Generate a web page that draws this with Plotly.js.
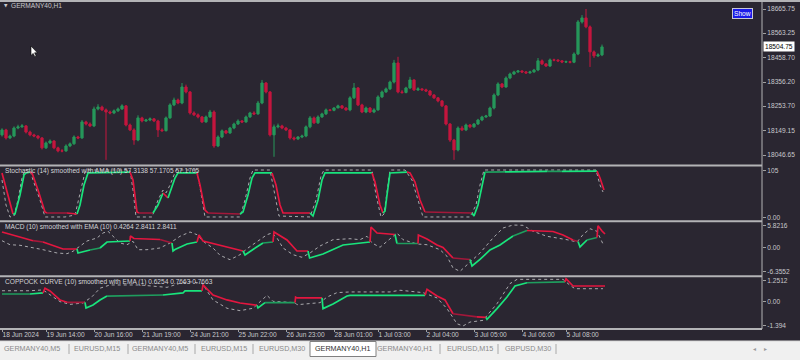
<!DOCTYPE html>
<html><head><meta charset="utf-8">
<script src="https://cdn.plot.ly/plotly-3.0.1.min.js"></script>
<style>html,body{margin:0;padding:0;background:#2a2631;}#chart{width:800px;height:360px;}</style>
</head><body><div id="chart"></div>
<script>
// ---------------- DATA ----------------
const barOpen = [18132,18153,18119,18127,18161,18166,18170,18144,18132,18127,
18119,18077,18098,18106,18077,18064,18064,18085,18094,18123,
18119,18187,18178,18170,18242,18250,18238,18229,18225,18234,
18242,18255,18174,18153,18110,18204,18191,18195,18200,18191,
18153,18150,18204,18259,18280,18267,18335,18314,18225,18217,
18208,18187,18208,18229,18085,18123,18149,18140,18161,18178,
18191,18187,18208,18225,18221,18267,18352,18314,18132,18166,
18170,18161,18153,18119,18115,18123,18127,18166,18204,18183,
18208,18221,18238,18236,18246,18255,18246,18238,18289,18331,
18259,18229,18246,18229,18238,18293,18314,18327,18356,18437,
18314,18312,18331,18365,18323,18327,18323,18318,18301,18289,
18276,18255,18178,18110,18068,18161,18153,18174,18166,18178,
18195,18208,18212,18246,18301,18348,18335,18373,18390,18399,
18403,18399,18395,18399,18407,18446,18433,18424,18450,18449,
18446,18441,18442,18440,18475,18611,18628,18590,18484,18467,
18471];
const barHigh = [18160,18158,18133,18168,18175,18178,18174,18150,18137,18131,
18123,18104,18113,18110,18082,18072,18092,18100,18130,18128,
18195,18192,18185,18252,18262,18256,18244,18235,18240,18248,
18262,18258,18180,18160,18215,18209,18200,18206,18203,18196,
18160,18210,18266,18290,18286,18352,18345,18318,18232,18223,
18212,18214,18238,18236,18130,18155,18153,18166,18184,18198,
18195,18214,18230,18232,18276,18365,18356,18318,18176,18180,
18175,18166,18156,18125,18127,18133,18172,18212,18210,18215,
18226,18244,18242,18250,18260,18258,18250,18296,18352,18335,
18264,18252,18250,18245,18300,18320,18333,18362,18450,18463,
18322,18336,18378,18368,18334,18330,18328,18322,18305,18292,
18280,18258,18182,18115,18168,18170,18180,18178,18182,18200,
18213,18217,18252,18308,18355,18352,18380,18396,18404,18407,
18406,18403,18404,18412,18458,18452,18436,18456,18455,18453,
18448,18447,18446,18482,18619,18640,18666,18596,18490,18478,
18515];
const barLow = [18125,18112,18114,18122,18156,18162,18138,18126,18122,18113,
18070,18072,18093,18071,18058,18058,18060,18080,18090,18114,
18115,18172,18165,18165,18236,18233,18026,18219,18220,18229,
18238,18168,18148,18090,18105,18185,18187,18190,18186,18123,
18144,18146,18200,18254,18262,18262,18308,18218,18212,18202,
18182,18183,18204,18077,18080,18118,18135,18136,18156,18174,
18182,18183,18204,18216,18217,18262,18308,18125,18039,18160,
18156,18148,18112,18108,18110,18118,18122,18160,18178,18178,
18204,18216,18232,18232,18246,18242,18234,18232,18284,18254,
18224,18224,18225,18224,18234,18288,18310,18322,18350,18308,
18306,18308,18326,18318,18318,18319,18314,18296,18284,18270,
18250,18172,18102,18026,18062,18148,18148,18160,18162,18174,
18190,18204,18208,18240,18296,18330,18332,18368,18386,18394,
18394,18390,18391,18395,18402,18428,18420,18420,18444,18441,
18436,18437,18435,18436,18470,18604,18584,18420,18458,18462,
18466];
const barClose = [18153,18119,18127,18161,18166,18170,18144,18132,18127,18119,
18077,18098,18106,18077,18064,18064,18085,18094,18123,18119,
18187,18178,18170,18242,18250,18238,18229,18225,18234,18242,
18255,18174,18153,18110,18204,18191,18195,18200,18191,18153,
18150,18204,18259,18280,18267,18335,18314,18225,18217,18208,
18187,18208,18229,18085,18123,18149,18140,18161,18178,18191,
18187,18208,18225,18221,18267,18352,18314,18132,18166,18170,
18161,18153,18119,18115,18123,18127,18166,18204,18183,18208,
18221,18238,18236,18246,18255,18246,18238,18289,18331,18259,
18229,18246,18229,18238,18293,18314,18327,18356,18437,18314,
18312,18331,18365,18323,18327,18323,18318,18301,18289,18276,
18255,18178,18110,18068,18161,18153,18174,18166,18178,18195,
18208,18212,18246,18301,18348,18335,18373,18390,18399,18403,
18399,18395,18399,18407,18446,18433,18424,18450,18449,18446,
18441,18442,18440,18475,18611,18628,18590,18484,18467,18471,
18505];

const tickBars = [0,11,23,35,47,59,71,83,94,106,118,130,141];
const tickLabels = ['18 Jun 2024','19 Jun 14:00','20 Jun 16:00','21 Jun 19:00','24 Jun 21:00','25 Jun 22:00','26 Jun 23:00','28 Jun 01:00','1 Jul 03:00','2 Jul 04:00','3 Jul 05:00','4 Jul 06:00','5 Jul 08:00'];
const priceTicks = [18665.75,18563.25,18458.70,18356.20,18253.70,18149.15,18046.65];
const lastPrice = 18504.75;

// Stochastic (main line, colour of each segment: g rising, G flat green, r falling, R flat red)
const stochX = [0,2.5,2.75,3.25,4.5,5.5,6,7,7.5,9,10.75,11.25,16.25,18.75,19.5,20.5,21.5,32,32.75,33.75,34.25,37.75,39,40.25,41,41.5,42.5,43.25,44,48.75,49.5,50.75,51.5,59.5,60.25,61.5,62.5,63.25,67.5,68.5,69.5,70.25,77,77.75,79,80,80.75,92.5,93.25,94.5,95.25,95.75,96.25,97,101.25,102,103.25,104.5,105.75,117.5,118,119,120,120.75,125.75,136.25,140,148.75,149.5,150.5];
const stochMain = [100,12.7,8.3,8.3,50.7,95.4,99.9,102,100,61.9,12.7,10.5,10.5,8.3,28.4,73,100,102,84.2,12.7,10.5,10.5,28.4,55.2,48.5,44,68.6,88.7,100,100,73,17.2,10.5,8.3,12.7,50.7,88.7,100,100,73,28.4,10.5,10.5,3.8,39.5,84.2,100,100,79.8,28.4,10.5,15,50.7,100,102,100,79.8,39.5,12.7,10.5,3.8,28.4,73,102,102.5,103.5,103.7,104,88.7,61.9];
const stochColor = 'rrgggggrrr' + 'rRrggggrrr' + 'Rggrrggggr' + 'rrRgggggrr' + 'rrgggggrrr' + 'ggggrrrrRg' + 'gggGgGgrrr';
const stochSigX = [0,1,2,3,4,5,5.75,7,7.75,9.5,10.75,15.75,18.25,19.5,20.75,21.5,32,32.75,33.5,37.5,39,40.25,41,42,43.5,48.75,49.75,50.75,59.5,60.75,62,62.75,67,68,69.25,77,78.5,79.75,80.5,92.5,93.5,94.75,95.5,96.5,97,100.75,102.5,104,105.25,117,118.5,119.5,120.5,148.5,149.5,150.25];
const stochSignal = [84.2,28.4,1.6,3.8,39.5,88.7,106.6,106.6,84.2,39.5,1.6,1.6,6,50.7,102,106.6,106.6,61.9,1.6,1.6,39.5,61.9,55.2,73,106.6,106.6,50.7,1.6,1.6,39.5,88.7,106.6,106.6,61.9,3.8,1.6,39.5,93.2,106.6,106.6,50.7,1.6,8.3,73,106.6,106.6,84.2,39.5,1.6,1.6,28.4,73,106.6,106.6,73,57.4];

// MACD
const macdX = [0,7.75,10.25,15.25,18.75,19,22,24.5,26.25,32,32.1,33,39.5,42.5,42.75,43.25,46.25,48.75,49.25,50.25,53.75,57.75,60.25,60.75,62.75,65.25,67.75,68,71.25,73.75,76.5,76.9,80.25,85.25,92,92.25,93.75,98.25,98.75,104,104.1,106.25,108.75,110.25,112.75,117,117.5,119.5,122,124.5,127.75,131.25,137.75,140.25,142.75,144,144.5,146.25,148.75,149,150,150.75];
const macdMain = [4.16,1.85,1.51,-0.34,-0.34,-1.40,-0.61,-0.08,1.51,1.77,3.10,2.44,2.17,1.24,-0.87,-0.48,0.98,1.51,3.36,1.77,0.85,-0.34,-0.87,-1.93,-0.48,1.24,1.51,4.16,2.04,-0.87,-0.87,-2.73,-1.67,0.71,1.51,5.48,3.89,3.49,1.11,1.11,3.36,2.30,0.71,0.05,-2.73,-3.12,-4.84,-3.12,-0.61,0.71,3.10,4.55,4.29,3.36,2.04,1.64,0.19,2.04,2.70,5.8,4.42,3.63];
const macdColor = 'rRrrggGggr' + 'rrRggggrrr' + 'rrgggGrrrr' + 'ggggrrrgGr' + 'rrrrRggggg' + 'GrrrRggGrr' + 'rr';
const macdSigX = [0,2,4.5,7,10.25,13.75,16.25,17.75,19.5,21.25,23.75,25.25,26.5,27.75,29.5,31.25,32.75,34,36.25,39.5,42,44.5,47,48.75,50.25,52.75,54.5,57,59.5,61.5,63.75,66.25,67.5,68.75,70.25,72.75,75,77,79.5,82.75,87,89.5,91.25,92.5,94.5,96.5,98.75,100.25,103.75,106.25,109.5,111.25,112.75,114.5,116.25,119.5,122.75,125.25,127.75,130.25,132.75,136.25,141.25,143.75,145.25,147,148.75,150.25];
const macdSignal = [1.85,0.79,0.64,0.19,-0.53,-1.40,-1.59,-0.95,0.45,1.77,2.57,3.89,4.34,3.02,1.24,0.79,1.69,-0.53,-0.53,-0.08,1.24,3.02,4.16,3.44,1.69,-0.08,-2.01,-3.18,-1.85,-0.08,1.69,3.44,3.89,2.57,-0.08,-1.85,-2.54,-1.40,0.45,2.12,2.38,2.12,3.02,1.24,0.11,1.85,3.89,2.12,0.98,0.79,-0.53,-2.28,-5.37,-6.25,-4.50,-1.40,2.57,5.21,6.0,5.93,4.34,3.02,2.12,1.51,3.44,5.03,4.34,0.98];

// Coppock curve
const copX = [0,7,10.25,10.75,12,14.5,16.25,20.75,21,22.75,24.5,26.25,40.25,45.25,45.75,50,50.25,52.75,56.25,59.5,63.75,64,65.75,73.25,73.4,73.75,80,80.25,82.75,86.25,87,105.75,106.25,108.75,110.75,112.75,115.25,118.75,121,121.25,123.75,126.25,128.25,131.25,140.75,141,142.75,150.75];
const copMain = [0.47,0.47,0.53,0.81,0.65,0.12,-0.02,-0.02,-0.35,-0.18,0.12,0.35,0.41,0.53,0.65,0.65,1.0,0.41,0.12,-0.06,-0.19,-0.35,-0.04,-0.04,0.29,0.24,0.24,-0.39,-0.12,0.35,0.39,0.39,0.75,0.35,0.12,-0.69,-0.78,-0.88,-0.91,-1.02,-0.39,0.29,0.94,1.13,1.18,1.37,0.94,0.94];
const copColor = 'GgrrrrRggg' + 'gGgggrrrrr' + 'ggGrrrgggg' + 'grrrrRRrgg' + 'gggGrrrr';
const copSigX = [0,7,10.25,12,14.5,17,20.25,22.5,24.5,27,34.5,38.75,41.25,44.5,47,50,52.75,56.25,59.5,62.75,63.75,66.25,67.75,73.25,73.75,79.5,81.25,83.75,87,97,99.5,105.25,108.75,111.25,113.75,115.25,117,120.25,123.75,127,128.75,140.25,142,143.25,150.25];
const copSignal = [0.66,0.66,0.71,0.41,0.02,-0.14,-0.06,0.31,0.81,1.0,1.0,0.91,0.86,1.10,1.19,1.10,0.12,-0.37,-0.51,-0.37,-0.15,0.39,0.04,-0.04,-0.16,-0.04,0.29,0.55,0.59,0.59,0.69,0.55,0.24,-0.39,-1.28,-1.41,-1.18,-1.08,-0.10,1.08,1.33,1.33,0.98,0.78,0.78];

const tabNames = ['GERMANY40,M5','EURUSD,M15','GERMANY40,M5','EURUSD,M15','EURUSD,M30','GERMANY40,H1','GERMANY40,H1','EURUSD,M15','GBPUSD,M30'];
const activeTab = 5;

// ---------------- STYLE / HELPERS ----------------
const BG = '#2a2631';
const TXT = '#c8c8cc';
const FONT = 'Liberation Sans, Arial, sans-serif';
const FS = 6.6;
const palette = {g:'#19e47c', G:'#1f9d5e', r:'#e3163f', R:'#a3183a'};
const PLOT_W = 762, PLOT_H = 329;
const px = p => p / PLOT_W;
const py = p => (PLOT_H - p) / PLOT_H;

function colourRuns(xs, ys, codes, yaxis) {
  const out = [];
  let s = 0;
  for (let k = 1; k < xs.length; k++) {
    if (k === xs.length - 1 || codes[k] !== codes[s]) {
      out.push({type:'scatter', mode:'lines', x: xs.slice(s, k + 1), y: ys.slice(s, k + 1),
        xaxis:'x', yaxis, line:{color: palette[codes[s]], width:1.7}, hoverinfo:'skip', showlegend:false});
      s = k;
    }
  }
  return out;
}
function dotted(xs, ys, yaxis) {
  return {type:'scatter', mode:'lines', x: xs, y: ys, xaxis:'x', yaxis,
    line:{color:'#a9a9ad', width:1, dash:'dot'}, hoverinfo:'skip', showlegend:false};
}

const barIndex = barOpen.map((_, i) => i);
const traces = [
  {type:'candlestick', x: barIndex, open: barOpen, high: barHigh, low: barLow, close: barClose,
   xaxis:'x', yaxis:'y', whiskerwidth:0,
   increasing:{line:{color:'#26975a', width:1}, fillcolor:'#26975a'},
   decreasing:{line:{color:'#c4163e', width:1}, fillcolor:'#c4163e'},
   hoverinfo:'skip', showlegend:false},
  dotted(stochSigX, stochSignal, 'y2'),
  ...colourRuns(stochX, stochMain, stochColor, 'y2'),
  dotted(macdSigX, macdSignal, 'y3'),
  ...colourRuns(macdX, macdMain, macdColor, 'y3'),
  dotted(copSigX, copSignal, 'y4'),
  ...colourRuns(copX, copMain, copColor, 'y4')
];

const yCommon = {side:'right', anchor:'x', showgrid:false, zeroline:false, showline:false,
  ticks:'outside', ticklen:3, tickcolor:'#a0a0a0', tickfont:{family:FONT, size:FS, color:TXT}, fixedrange:true};

const sepColor = '#b3b3b6';
const shapes = [
  {type:'line', xref:'paper', yref:'paper', x0:px(0), x1:px(800), y0:py(1), y1:py(1), line:{color:sepColor, width:2}},
  ...[165.5, 221.3, 276.3, 329].map(v => ({type:'line', xref:'paper', yref:'paper', x0:px(0), x1:px(762), y0:py(v), y1:py(v), line:{color:sepColor, width:2}})),
  {type:'line', xref:'paper', yref:'paper', x0:px(762), x1:px(762), y0:py(0), y1:py(329), line:{color:sepColor, width:1}},
  {type:'rect', xref:'paper', yref:'paper', x0:px(0), x1:px(800), y0:py(341), y1:py(360), fillcolor:'#f0f0f0', line:{width:0}},
  {type:'line', xref:'paper', yref:'paper', x0:px(0), x1:px(800), y0:py(341), y1:py(341), line:{color:'#d8d8d8', width:1}},
  {type:'rect', xref:'paper', yref:'paper', x0:px(310), x1:px(376), y0:py(341.5), y1:py(356.5), fillcolor:'#ffffff', line:{color:'#808080', width:1}},
  ...[69,128,195,253,440,498,556].map(v => ({type:'line', xref:'paper', yref:'paper', x0:px(v), x1:px(v), y0:py(344), y1:py(354), line:{color:'#a8a8a8', width:1}})),
  {type:'path', xref:'paper', yref:'paper',
   path:`M${px(31)},${py(46)} L${px(31)},${py(55.5)} L${px(33.2)},${py(53.4)} L${px(34.8)},${py(56.8)} L${px(36.2)},${py(56.2)} L${px(34.6)},${py(52.8)} L${px(37.4)},${py(52.8)} Z`,
   fillcolor:'#ffffff', line:{color:'#000000', width:0.6}}
];

const ann = (x, y, text, opts = {}) => Object.assign({xref:'paper', yref:'paper', x:px(x), y:py(y), text, showarrow:false,
  xanchor:'left', yanchor:'middle', font:{family:FONT, size:FS, color:TXT}}, opts);

const tabCentres = [32, 97, 160, 224, 282, 343, 405, 470, 528];
const annotations = [
  ann(1.5, 6, '▼', {font:{family:'DejaVu Sans', size:4.5, color:TXT}}),
  ann(9, 6, 'GERMANY40,H1'),
  ann(742, 13.5, 'Show', {xanchor:'center', bgcolor:'#1a1ae8', bordercolor:'#c8c8d8', borderwidth:1, borderpad:1, font:{family:FONT, size:FS, color:'#ffffff'}}),
  {xref:'paper', yref:'y', x:px(763), y:lastPrice, text:'18504.75', showarrow:false, xanchor:'left', yanchor:'middle',
   bgcolor:'#ffffff', borderpad:1, font:{family:FONT, size:FS, color:'#000000'}},
  ann(3, 171.5, 'Stochastic (14) smoothed with AMA (10) 57.3138 57.1705 57.1705', {font:{family:FONT, size:FS, color:'#d4d4d8'}}),
  ann(3, 226.5, 'MACD (10) smoothed with EMA (10) 0.4264 2.8411 2.8411', {font:{family:FONT, size:FS, color:'#d4d4d8'}}),
  ann(3, 281.5, 'COPPOCK CURVE (10) smoothed with EMA (1) 0.6254 0.7663 0.7663', {font:{family:FONT, size:FS, color:'#d4d4d8'}}),
  ...tabNames.map((t, i) => ann(tabCentres[i], 349, t, {xanchor:'center', font:{family:FONT, size:FS + 0.6, color: i === activeTab ? '#303030' : '#8a8a8a'}})),
  ann(754, 349, '◂', {xanchor:'center', font:{family:'DejaVu Sans', size:6, color:'#9a9a9a'}}),
  ann(765, 349, '▸', {xanchor:'center', font:{family:'DejaVu Sans', size:6, color:'#9a9a9a'}})
];

const layout = {
  width:800, height:360,
  margin:{l:0, r:38, t:0, b:31, pad:0},
  paper_bgcolor:BG, plot_bgcolor:BG,
  showlegend:false, hovermode:false, boxgap:0.2,
  font:{family:FONT, size:FS, color:TXT},
  xaxis:{domain:[0,1], range:[-0.5,190], anchor:'y4', showgrid:false, zeroline:false, showline:false,
    tickvals:tickBars, ticktext:tickLabels, ticks:'outside', ticklen:3, tickcolor:'#a0a0a0', tickangle:0,
    ticklabelposition:'outside right', tickfont:{family:FONT, size:FS, color:TXT},
    rangeslider:{visible:false}, fixedrange:true},
  yaxis:Object.assign({}, yCommon, {domain:[py(164.5), py(2.5)], range:[18006.4, 18693.3],
    tickvals:priceTicks, ticktext:priceTicks.map(v => v.toFixed(2))}),
  yaxis2:Object.assign({}, yCommon, {domain:[py(220), py(166.5)], range:[-5.14, 114.4],
    tickvals:[105, 0], ticktext:['105', '0.00']}),
  yaxis3:Object.assign({}, yCommon, {domain:[py(275), py(222.5)], range:[-7.23, 6.67],
    tickvals:[5.8216, 0, -6.3552], ticktext:['5.8216', '0.00', '-6.3552']}),
  yaxis4:Object.assign({}, yCommon, {domain:[py(328), py(277.5)], range:[-1.529, 1.439],
    tickvals:[1.2512, 0, -1.394], ticktext:['1.2512', '0.00', '-1.394']}),
  shapes, annotations
};

Plotly.newPlot('chart', traces, layout, {displayModeBar:false, staticPlot:true});
</script>
</body></html>
